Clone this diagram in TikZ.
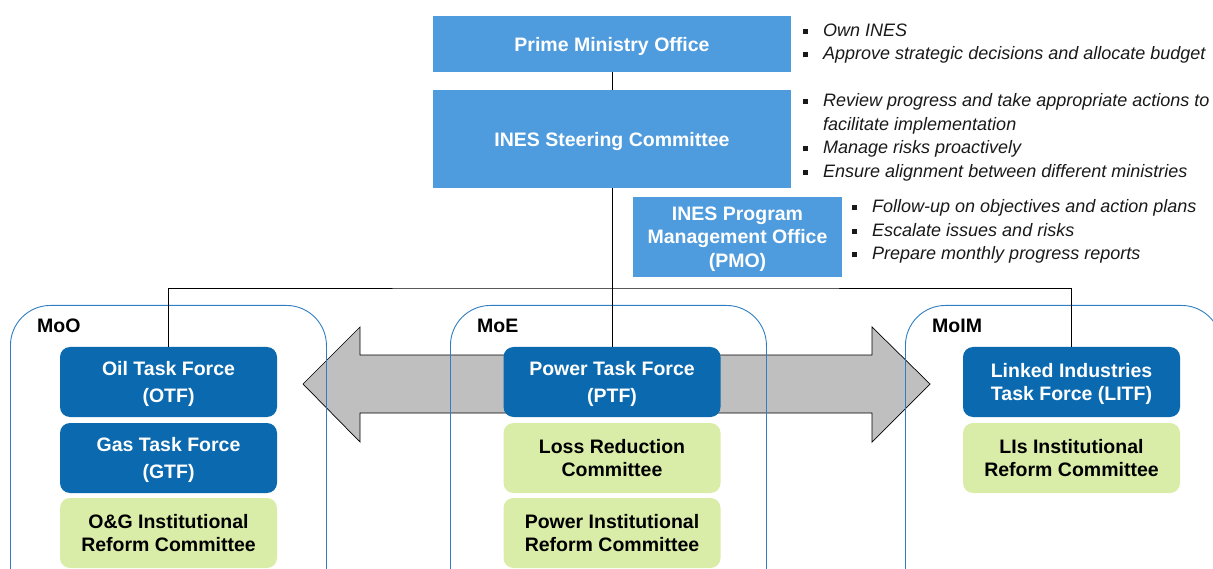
\documentclass[tikz,border=0pt]{standalone}
\usepackage{fontspec}
\setmainfont{Liberation Sans}
\setsansfont{Liberation Sans}
\usepackage{tikz}
\usetikzlibrary{positioning}
\definecolor{inesblue}{HTML}{4E9BDD}
\definecolor{tfblue}{HTML}{0B69AF}
\definecolor{reformgreen}{HTML}{DAEDA8}
\definecolor{minline}{HTML}{2F7EC1}
\definecolor{arrowgray}{HTML}{BFBFBF}
\newcommand{\bsq}{\rule[2.7pt]{5pt}{5pt}}

\begin{document}
\begin{tikzpicture}[x=1pt, y=-1pt,
  every node/.style={font=\sffamily},
  topbox/.style={fill=inesblue, text=white, align=center, inner sep=0pt, text depth=0pt,
    minimum width=358pt, font=\sffamily\bfseries\fontsize{19.5}{23.5}\selectfont},
  tfbox/.style={fill=tfblue, text=white, rounded corners=10pt, align=center, inner sep=0pt,
    text depth=0pt, minimum width=217pt, minimum height=70pt,
    font=\sffamily\bfseries\fontsize{19.5}{23.5}\selectfont},
  reformbox/.style={tfbox, fill=reformgreen, text=black},
  ministry/.style={draw=minline, line width=0.9pt, rounded corners=40pt, anchor=north west,
    minimum width=316pt, minimum height=320pt, inner sep=0pt},
  minlabel/.style={anchor=base west, inner sep=0pt, font=\sffamily\bfseries\fontsize{19.5}{23.5}\selectfont},
  bullets/.style={anchor=base west, inner sep=0pt, text=black!90,
    font=\sffamily\itshape\fontsize{18}{23.5}\selectfont},
  link/.style={draw, line width=0.8pt},
]
  \useasboundingbox (0,0) rectangle (1213,569);
  \clip (0,0) rectangle (1213,569);

  % double arrow between the ministries
  \draw[fill=arrowgray, line width=0.7pt] (303,384) -- (360,327) -- (360,355) -- (872,355)
    -- (872,327) -- (930,384) -- (872,442) -- (872,413) -- (360,413) -- (360,442) -- cycle;

  % ministries
  \node[ministry] (moo) at (10,305) {};
  \node[ministry] (moe) at (450,305) {};
  \node[ministry] (moim) at (905,305) {};
  \node[minlabel] (moolbl) at (37,333) {MoO};
  \node[minlabel] (moelbl) at (477,333) {MoE};
  \node[minlabel] (moimlbl) at (932,333) {MoIM};

  % top of the structure
  \node[topbox, minimum height=56pt] (prime) at (612,44) {Prime Ministry Office};
  \node[topbox, minimum height=98pt] (steer) at (612,139) {INES Steering Committee};
  \node[topbox, minimum width=209pt, minimum height=80pt] (pmo) at (737.5,237)
    {INES Program\\Management Office\\(PMO)};

  % task forces and committees
  \node[tfbox] (otf) at (168.5,382) {Oil Task Force\\[3pt](OTF)};
  \node[tfbox] (gtf) at (168.5,458) {Gas Task Force\\[3pt](GTF)};
  \node[reformbox] (ogirc) at (168.5,533) {O\&G Institutional\\Reform Committee};
  \node[tfbox] (ptf) at (612,382) {Power Task Force\\[3pt](PTF)};
  \node[reformbox] (lrc) at (612,458) {Loss Reduction\\Committee};
  \node[reformbox] (pirc) at (612,533) {Power Institutional\\Reform Committee};
  \node[tfbox] (litf) at (1071.5,382) {Linked Industries\\Task Force (LITF)};
  \node[reformbox] (lirc) at (1071.5,458) {LIs Institutional\\Reform Committee};

  % reporting lines
  \coordinate (bus) at (612,288);
  \draw[link] (prime) -- (steer);
  \draw[link] (steer) -- (ptf);
  \draw[link] (otf.north) |- (bus) -| (litf.north);

  % roles
  \node[bullets] (primenotes) at (803,36.5) {\begin{tabular}[t]{@{}l@{\hspace{15pt}}l@{}}
    \bsq & Own INES\\
    \bsq & Approve strategic decisions and allocate budget
  \end{tabular}};
  \node[bullets] (steernotes) at (803,107) {\begin{tabular}[t]{@{}l@{\hspace{15pt}}l@{}}
    \bsq & Review progress and take appropriate actions to\\
         & facilitate implementation\\
    \bsq & Manage risks proactively\\
    \bsq & Ensure alignment between different ministries
  \end{tabular}};
  \node[bullets] (pmonotes) at (852,213) {\begin{tabular}[t]{@{}l@{\hspace{15pt}}l@{}}
    \bsq & Follow-up on objectives and action plans\\
    \bsq & Escalate issues and risks\\
    \bsq & Prepare monthly progress reports
  \end{tabular}};
\end{tikzpicture}
\end{document}
